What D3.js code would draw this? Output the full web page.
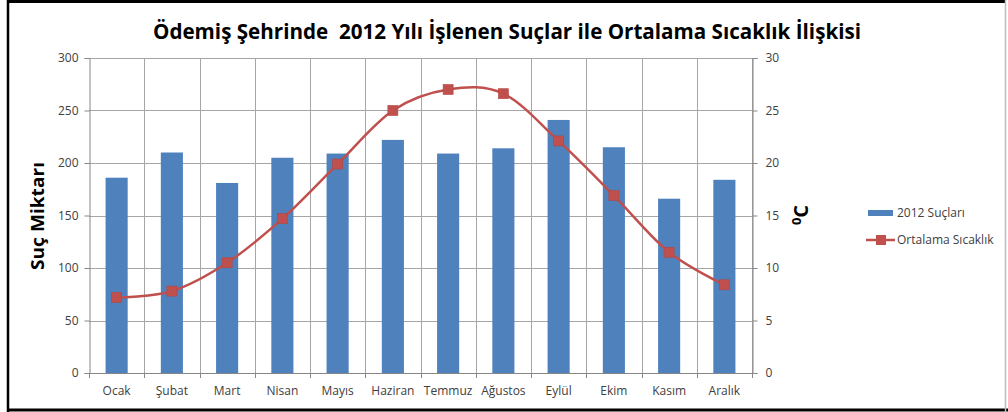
<!DOCTYPE html>
<html><head><meta charset="utf-8">
<script src="https://cdn.jsdelivr.net/npm/d3@7"></script>
<style>
html,body{margin:0;padding:0;background:#fff;}
svg{display:block;font-family:"Open Sans","Noto Sans",sans-serif;}
</style></head>
<body>
<svg id="c" width="1008" height="412"></svg>
<script>
const months = ["Ocak","Şubat","Mart","Nisan","Mayıs","Haziran","Temmuz","Ağustos","Eylül","Ekim","Kasım","Aralık"];
const crimes = [186, 210, 181, 205, 209, 222, 209, 214, 241, 215, 166, 184];
const temps = [7.2, 7.8, 10.5, 14.7, 19.9, 25.0, 27.0, 26.6, 22.1, 16.9, 11.5, 8.4];
const leftTicks = [0, 50, 100, 150, 200, 250, 300];
const rightTicks = [0, 5, 10, 15, 20, 25, 30];
const titleText = "Ödemiş Şehrinde  2012 Yılı İşlenen Suçlar ile Ortalama Sıcaklık İlişkisi";
const seriesNames = ["2012 Suçları", "Ortalama Sıcaklık"];

const svg = d3.select("#c");
const plot = {left: 89, right: 752, top: 58, bottom: 373};
const barColor = "#4F81BD", lineColor = "#C0504D", gridColor = "#A6A6A6", axisColor = "#868686", labelColor = "#404040";

const x = d3.scaleBand().domain(months).range([plot.left, plot.right]).padding(0);
const yL = d3.scaleLinear().domain([0, 300]).range([plot.bottom, plot.top]);
const yR = d3.scaleLinear().domain([0, 30]).range([plot.bottom, plot.top]);

// frame
svg.append("rect").attr("x",0).attr("y",0).attr("width",1008).attr("height",412).attr("fill","#fff");
svg.append("line").attr("x1",7).attr("x2",1006).attr("y1",1.5).attr("y2",1.5).attr("stroke","#000").attr("stroke-width",3);
svg.append("line").attr("x1",8).attr("x2",8).attr("y1",0).attr("y2",412).attr("stroke","#000").attr("stroke-width",2.5);
svg.append("line").attr("x1",7).attr("x2",1008).attr("y1",410).attr("y2",410).attr("stroke","#000").attr("stroke-width",3);
svg.append("line").attr("x1",1005.5).attr("x2",1005.5).attr("y1",0).attr("y2",412).attr("stroke","#BDBDBD").attr("stroke-width",1.5);

// horizontal grid
svg.append("g").selectAll("line").data(leftTicks.slice(1)).join("line")
  .attr("x1", plot.left).attr("x2", plot.right)
  .attr("y1", d => Math.round(yL(d)) + 0.5).attr("y2", d => Math.round(yL(d)) + 0.5)
  .attr("stroke", gridColor).attr("stroke-width", 1);
// vertical grid at category boundaries
const bounds = months.map(m => x(m)).concat([plot.right]);
svg.append("g").selectAll("line").data(bounds.slice(1)).join("line")
  .attr("x1", d => Math.round(d) + 0.5).attr("x2", d => Math.round(d) + 0.5)
  .attr("y1", plot.top).attr("y2", plot.bottom)
  .attr("stroke", gridColor).attr("stroke-width", 1);

// bars
const bw = x.bandwidth() / 2.5;
svg.append("g").selectAll("rect").data(months).join("rect")
  .attr("x", (m) => x(m) + (x.bandwidth() - bw) / 2)
  .attr("width", bw)
  .attr("y", (m, i) => yL(crimes[i]))
  .attr("height", (m, i) => yL(0) - yL(crimes[i]))
  .attr("fill", barColor);

// axes
const axL = svg.append("g").attr("transform", `translate(${plot.left + 0.5},0)`)
  .call(d3.axisLeft(yL).tickValues(leftTicks).tickSize(5).tickPadding(6));
const axR = svg.append("g").attr("transform", `translate(${plot.right + 0.5},0)`)
  .call(d3.axisRight(yR).tickValues(rightTicks).tickSize(5).tickPadding(8));
const axB = svg.append("g").attr("transform", `translate(0,${plot.bottom + 0.5})`)
  .call(d3.axisBottom(x).tickSize(0).tickPadding(13));
[axL, axR, axB].forEach(a => {
  a.select(".domain").attr("stroke", axisColor);
  a.selectAll(".tick line").attr("stroke", axisColor);
  a.selectAll("text").attr("fill", labelColor).attr("font-size", 12)
    .attr("font-family", '"Open Sans","Noto Sans",sans-serif');
});
axB.select(".domain").attr("d", `M${plot.left},0H${plot.right}`);
// category boundary tick marks on x axis
svg.append("g").selectAll("line").data(bounds).join("line")
  .attr("x1", d => Math.round(d) + 0.5).attr("x2", d => Math.round(d) + 0.5)
  .attr("y1", plot.bottom).attr("y2", plot.bottom + 5)
  .attr("stroke", axisColor);

// line
const pts = months.map((m, i) => [x(m) + x.bandwidth() / 2, yR(temps[i])]);
svg.append("path").datum(pts)
  .attr("d", d3.line().curve(d3.curveCatmullRom.alpha(0)))
  .attr("fill", "none").attr("stroke", lineColor).attr("stroke-width", 2.5);
svg.append("g").selectAll("rect").data(pts).join("rect")
  .attr("x", d => d[0] - 5).attr("y", d => d[1] - 5)
  .attr("width", 10).attr("height", 10)
  .attr("fill", lineColor).attr("stroke", "#B34542").attr("stroke-width", 0.6);

// title
svg.append("text").attr("x", 507).attr("y", 39).attr("text-anchor", "middle")
  .attr("font-size", 21).attr("font-weight", "bold").attr("fill", "#000")
  .style("white-space", "pre").attr("xml:space", "preserve")
  .attr("textLength", 708).attr("lengthAdjust", "spacingAndGlyphs")
  .text(titleText);

// axis titles
svg.append("text").attr("transform", "translate(44,216) rotate(-90)")
  .attr("text-anchor", "middle").attr("font-size", 17).attr("font-weight", "bold")
  .attr("textLength", 108).attr("lengthAdjust", "spacingAndGlyphs")
  .text("Suç Miktarı");
const rt = svg.append("text").attr("transform", "translate(808,215) rotate(-90)")
  .attr("text-anchor", "middle").attr("font-size", 20).attr("font-weight", "bold");
rt.append("tspan").attr("font-size", 13).attr("dy", -7).text("0");
rt.append("tspan").attr("dy", 7).text("C");

// legend
const lg = svg.append("g").attr("font-size", 12).attr("fill", labelColor);
lg.append("rect").attr("x", 868).attr("y", 210).attr("width", 25).attr("height", 6).attr("fill", barColor);
lg.append("text").attr("x", 897).attr("y", 217).attr("fill", labelColor).text(seriesNames[0]);
lg.append("line").attr("x1", 866).attr("x2", 895).attr("y1", 240).attr("y2", 240).attr("stroke", lineColor).attr("stroke-width", 2.5);
lg.append("rect").attr("x", 876).attr("y", 235).attr("width", 10).attr("height", 10).attr("fill", lineColor);
lg.append("text").attr("x", 897).attr("y", 244).attr("fill", labelColor).text(seriesNames[1]);
</script>
</body></html>
